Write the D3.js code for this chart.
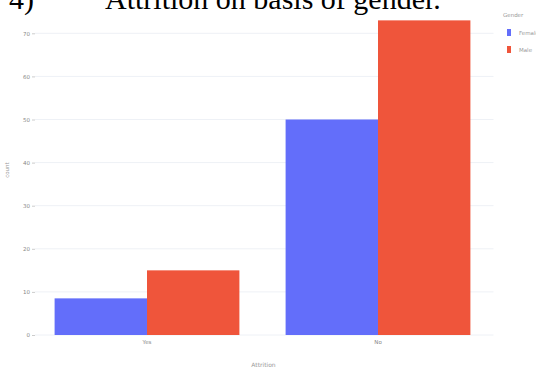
<!DOCTYPE html>
<html>
<head>
<meta charset="utf-8">
<script src="https://cdn.jsdelivr.net/npm/d3@7"></script>
<style>
  html, body { margin: 0; padding: 0; background: #fff; }
  svg { display: block; }
</style>
</head>
<body>
<svg id="chart" width="536" height="372"></svg>
<script>
// Attrition counts split by gender
const categories = ["Yes", "No"];
const genders = ["Female", "Male"];
const femaleCounts = [8.5, 50];
const maleCounts = [15, 73];
const yTicks = [0, 10, 20, 30, 40, 50, 60, 70];
const genderColors = ["#636efa", "#ef553b"];

const rows = categories.map((c, i) => ({ cat: c, values: [femaleCounts[i], maleCounts[i]] }));

const plot = { left: 31.5, right: 493.5, bottom: 335 };

const svg = d3.select("#chart");

const y = d3.scaleLinear().domain([0, 70]).range([plot.bottom, 33.3]);
const x0 = d3.scaleBand().domain(categories).range([plot.left, plot.right]).paddingInner(0.2).paddingOuter(0.1);
const x1 = d3.scaleBand().domain(genders).range([0, x0.bandwidth()]);
const color = d3.scaleOrdinal().domain(genders).range(genderColors);

// horizontal gridlines
svg.append("g")
  .selectAll("line")
  .data(yTicks)
  .join("line")
  .attr("x1", 35).attr("x2", plot.right)
  .attr("y1", d => y(d)).attr("y2", d => y(d))
  .attr("stroke", "#eef1f6").attr("stroke-width", 1);

// y axis labels
const yAxis = d3.axisLeft(y).tickValues(yTicks).tickSize(3).tickPadding(2);
svg.append("g")
  .attr("transform", `translate(${35},0)`)
  .call(yAxis)
  .call(g => g.select(".domain").remove())
  .call(g => g.selectAll("line").attr("stroke", "#ccc"))
  .call(g => g.selectAll("text").attr("fill", "#888").style("font", "5.5px 'DejaVu Sans'"));

// bars
svg.append("g")
  .selectAll("g")
  .data(rows)
  .join("g")
  .attr("transform", d => `translate(${x0(d.cat)},0)`)
  .selectAll("rect")
  .data(d => d.values.map((v, i) => ({ g: genders[i], v })))
  .join("rect")
  .attr("x", d => x1(d.g))
  .attr("width", x1.bandwidth())
  .attr("y", d => y(d.v))
  .attr("height", d => y(0) - y(d.v))
  .attr("fill", d => color(d.g));

// x axis labels
const xAxis = d3.axisBottom(x0).tickSize(0).tickPadding(5);
svg.append("g")
  .attr("transform", `translate(0,${plot.bottom})`)
  .call(xAxis)
  .call(g => g.select(".domain").remove())
  .call(g => g.selectAll("text").attr("fill", "#888").style("font", "5.5px 'DejaVu Sans'"));

// axis titles
svg.append("text")
  .attr("x", (plot.left + plot.right) / 2 + 1).attr("y", 367)
  .attr("text-anchor", "middle")
  .attr("fill", "#999").style("font", "6px 'DejaVu Sans'")
  .text("Attrition");

svg.append("text")
  .attr("transform", "translate(9,170) rotate(-90)")
  .attr("text-anchor", "middle")
  .attr("fill", "#999").style("font", "5.5px 'DejaVu Sans'")
  .text("count");

// legend
const legend = svg.append("g").attr("transform", "translate(503,0)");
legend.append("text")
  .attr("x", 0).attr("y", 17)
  .attr("fill", "#999").style("font", "5.5px 'DejaVu Sans'")
  .text("Gender");
genders.forEach((gname, i) => {
  legend.append("rect")
    .attr("x", 4).attr("y", 29 + i * 17)
    .attr("width", 4).attr("height", 7)
    .attr("fill", color(gname));
  legend.append("text")
    .attr("x", 16).attr("y", 35 + i * 17)
    .attr("fill", "#999").style("font", "5.5px 'DejaVu Sans'")
    .text(gname);
});

// heading
svg.append("text")
  .attr("x", 9).attr("y", 9)
  .attr("fill", "#000")
  .style("font", "30px 'Liberation Serif'")
  .text("4)");
svg.append("text")
  .attr("x", 105).attr("y", 9)
  .attr("fill", "#000")
  .style("font", "30px 'Liberation Serif'")
  .text("Attrition on basis of gender.");
</script>
</body>
</html>
